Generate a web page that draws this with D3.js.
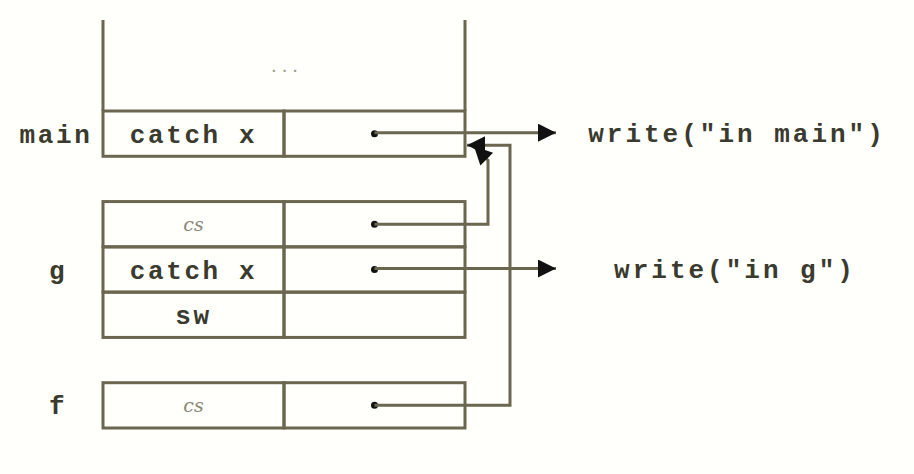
<!DOCTYPE html>
<html>
<head>
<meta charset="utf-8">
<script src="https://cdn.jsdelivr.net/npm/d3@7"></script>
<style>
body { margin: 0; background: #fffffb; }
</style>
</head>
<body>
<svg id="chart" width="914" height="474"></svg>
<script>
// stack rows: slot index, frame name, left cell text, has pointer in right cell
var rowSlot = [0, 2, 3, 4, 6];
var rowFrame = ['main', 'g', 'g', 'g', 'f'];
var rowText = ['catch x', 'cs', 'catch x', 'sw', 'cs'];
var rowPointer = [true, true, true, false, true];
var rowIsCs = [false, true, false, false, true];

// frame labels and the slot they sit on
var frameNames = ['main', 'g', 'f'];
var frameSlot = [0, 3, 6];

// handlers: row index -> text
var handlerRow = [0, 2];
var handlerText = ['write("in main")', 'write("in g")'];

// cs links: row index -> lane (column of the bend)
var csRow = [1, 4];
var csLane = [488, 510];

var lineColor = '#6b6650';
var textColor = '#3b3a2e';

var svg = d3.select('#chart');

var y = d3.scaleLinear().domain([0, 7]).range([111, 428]);
var x = d3.scaleLinear().domain([0, 1, 2]).range([103, 284, 465]);
var rh = y(1) - y(0);

var defs = svg.append('defs');
defs.append('marker')
    .attr('id', 'arr')
    .attr('viewBox', '0 0 10 10')
    .attr('refX', 10).attr('refY', 5)
    .attr('markerWidth', 7).attr('markerHeight', 6)
    .attr('markerUnits', 'strokeWidth')
    .attr('orient', 'auto')
    .append('path').attr('d', 'M0,0L10,5L0,10z').attr('fill', '#111');

// open stack above main
svg.append('line').attr('x1', x(0)).attr('x2', x(0)).attr('y1', 20).attr('y2', y(0))
    .attr('stroke', lineColor).attr('stroke-width', 3);
svg.append('line').attr('x1', x(2)).attr('x2', x(2)).attr('y1', 20).attr('y2', y(0))
    .attr('stroke', lineColor).attr('stroke-width', 3);
svg.append('text').attr('x', (x(0) + x(2)) / 2 + 3).attr('y', y(-1) + 6)
    .attr('text-anchor', 'middle').attr('fill', '#9c998c')
    .style('font', '18px "DejaVu Serif"').style('letter-spacing', '5px').text('...');

// cells
rowSlot.forEach(function(s, i) {
    [0, 1].forEach(function(c) {
        svg.append('rect')
            .attr('x', x(c)).attr('y', y(s))
            .attr('width', x(c + 1) - x(c)).attr('height', rh)
            .attr('fill', 'none').attr('stroke', lineColor).attr('stroke-width', 3);
    });
    var t = svg.append('text')
        .attr('x', (x(0) + x(1)) / 2).attr('y', y(s) + rh / 2)
        .attr('dy', '0.35em').attr('text-anchor', 'middle')
        .text(rowText[i]);
    if (rowIsCs[i]) {
        t.attr('fill', '#8a877a').style('font', 'italic 19px "DejaVu Serif"');
    } else {
        t.attr('fill', textColor)
            .style('font', 'bold 26px "Liberation Mono"')
            .style('letter-spacing', '2.6px');
    }
});

// frame labels
frameNames.forEach(function(n, i) {
    var s = frameSlot[i];
    svg.append('text')
        .attr('x', n == 'main' ? 56 : 58).attr('y', y(s) + rh / 2)
        .attr('dy', '0.35em').attr('text-anchor', 'middle')
        .attr('fill', textColor)
        .style('font', 'bold 26px "Liberation Mono"')
        .style('letter-spacing', '2.6px')
        .text(n);
});

var dotX = (x(1) + x(2)) / 2;

// pointer dots
rowSlot.forEach(function(s, i) {
    if (!rowPointer[i]) return;
    svg.append('circle').attr('cx', dotX).attr('cy', y(s) + rh / 2).attr('r', 3.5).attr('fill', '#111');
});

// handler arrows
handlerRow.forEach(function(r, i) {
    var cy = y(rowSlot[r]) + rh / 2 - 1;
    svg.append('line').attr('x1', dotX).attr('x2', 556).attr('y1', cy).attr('y2', cy)
        .attr('stroke', lineColor).attr('stroke-width', 3)
        .attr('marker-end', 'url(#arr)');
    svg.append('text')
        .attr('x', i == 0 ? 737 : 735).attr('y', cy)
        .attr('dy', '0.35em').attr('text-anchor', 'middle')
        .attr('fill', textColor)
        .style('font', 'bold 26px "Liberation Mono"')
        .style('letter-spacing', '3px')
        .text(handlerText[i]);
});

// cs links back to main's catch row
csRow.forEach(function(r, i) {
    var cy = y(rowSlot[r]) + rh / 2;
    var lane = csLane[i];
    var pts;
    if (i == 0) {
        pts = [[dotX, cy], [lane, cy], [lane, y(0) + rh + 4], [474, y(0) + rh - 10]];
    } else {
        pts = [[dotX, cy], [lane, cy], [lane, y(0) + rh - 11], [467, y(0) + rh - 11]];
    }
    svg.append('path')
        .attr('d', d3.line()(pts))
        .attr('fill', 'none').attr('stroke', lineColor).attr('stroke-width', 3)
        .attr('marker-end', 'url(#arr)');
});
</script>
</body>
</html>
